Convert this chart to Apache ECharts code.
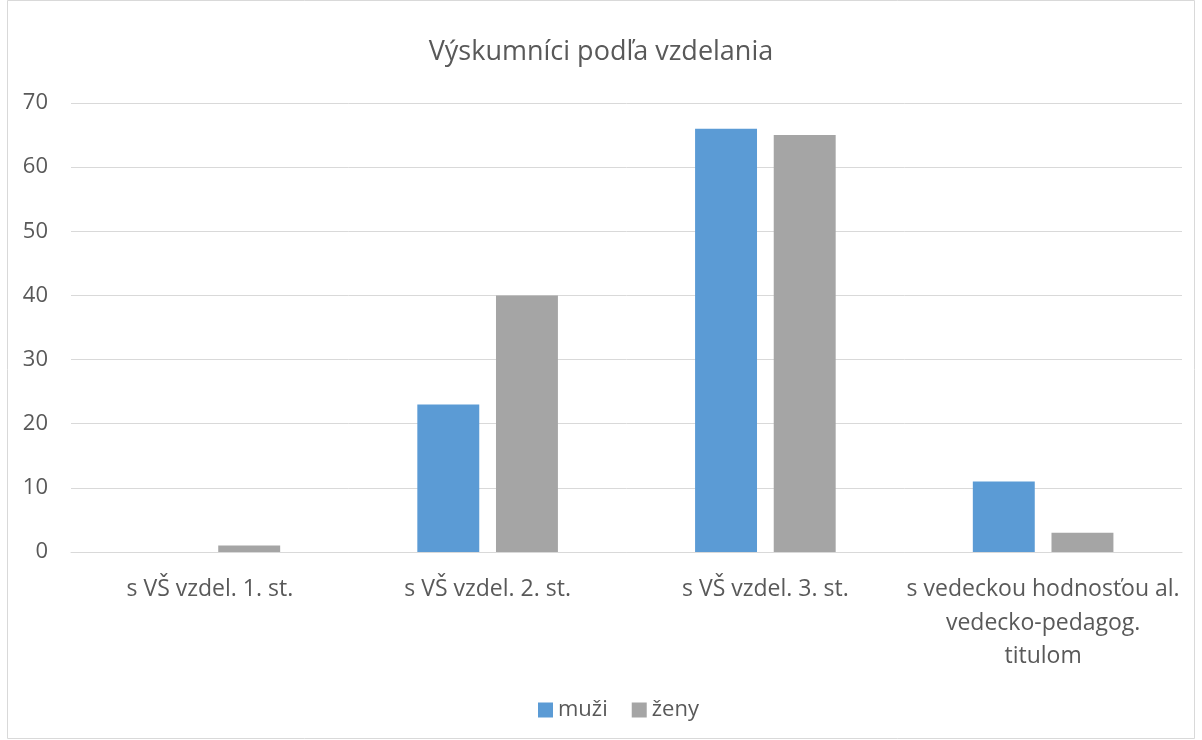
<!DOCTYPE html>
<html><head><meta charset="utf-8">
<script src="https://cdn.jsdelivr.net/npm/echarts@6/dist/echarts.min.js"></script>
<style>html,body{margin:0;padding:0;background:#fff}#c{width:1202px;height:740px}</style>
</head><body><div id="c"></div>
<script>
const title = 'Výskumníci podľa vzdelania';
const categories = ['s VŠ vzdel. 1. st.', 's VŠ vzdel. 2. st.', 's VŠ vzdel. 3. st.', 's vedeckou hodnosťou al.\nvedecko-pedagog.\ntitulom'];
const seriesNames = ['muži', 'ženy'];
const muzi = [0, 23, 66, 11];
const zeny = [1, 40, 65, 3];
const yTicks = {min: 0, max: 70, interval: 10};

const font = '"Open Sans", "Noto Sans", sans-serif';
const chart = echarts.init(document.getElementById('c'));
chart.setOption({
  animation: false,
  backgroundColor: '#fff',
  title: {text: title, left: 'center', top: 34, textStyle: {fontFamily: font, fontSize: 27, fontWeight: 'normal', color: '#595959'}},
  legend: {bottom: 14, left: 533, itemWidth: 15, itemHeight: 15, itemGap: 24, icon: 'rect',
    textStyle: {fontFamily: font, fontSize: 22, color: '#595959'}, data: seriesNames},
  grid: {left: 71, right: 20, top: 103, bottom: 188, containLabel: false},
  xAxis: {type: 'category', data: categories,
    axisLine: {lineStyle: {color: '#D9D9D9'}}, axisTick: {show: false},
    axisLabel: {fontFamily: font, fontSize: 23, color: '#595959', margin: 21, lineHeight: 33.5, interval: 0}},
  yAxis: {type: 'value', min: yTicks.min, max: yTicks.max, interval: yTicks.interval,
    axisLine: {show: false}, axisTick: {show: false},
    splitLine: {lineStyle: {color: '#D9D9D9', width: 1}},
    axisLabel: {fontFamily: font, fontSize: 22, color: '#595959', margin: 23}},
  series: [
    {name: seriesNames[0], type: 'bar', data: muzi, barWidth: '22.3%', barGap: '27%', itemStyle: {color: '#5B9BD5'}},
    {name: seriesNames[1], type: 'bar', data: zeny, barWidth: '22.3%', barGap: '27%', itemStyle: {color: '#A5A5A5'}}
  ],
  graphic: [{type: 'rect', shape: {x: 7.5, y: 0.5, width: 1187, height: 738}, style: {fill: 'none', stroke: '#D9D9D9', lineWidth: 1}, silent: true}]
});
</script></body></html>
